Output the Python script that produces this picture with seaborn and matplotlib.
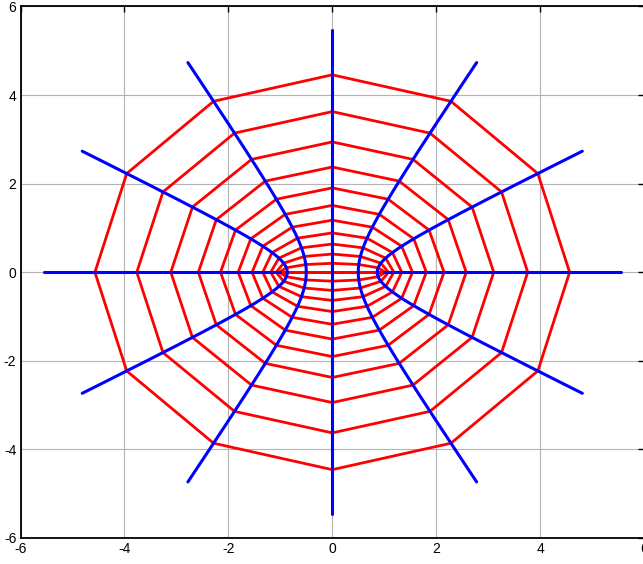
import numpy as np
import pandas as pd
import matplotlib
matplotlib.use("Agg")
import matplotlib.pyplot as plt
import seaborn as sns

# Elliptic coordinate grid: x = cosh(u) cos(v), y = sinh(u) sin(v)
red_u_levels = [0.0, 0.2, 0.4, 0.6, 0.8, 1.0, 1.2, 1.4, 1.6, 1.8, 2.0, 2.2]
red_v_deg = [0, 30, 60, 90, 120, 150, 180, 210, 240, 270, 300, 330, 360]
blue_v_deg = [0, 30, 60, 90, 120, 150, 180, 210, 240, 270, 300, 330]
blue_u_range = [0.0, 2.4]
x_ticks = [-6, -4, -2, 0, 2, 4, 6]
y_ticks = [-6, -4, -2, 0, 2, 4, 6]

sns.set_style("white")
plt.rcParams['font.family'] = ['Liberation Sans', 'DejaVu Sans']
plt.rcParams['axes.unicode_minus'] = False

rows = []
for i, u in enumerate(red_u_levels):
    for k, vd in enumerate(red_v_deg):
        v = np.deg2rad(vd)
        rows.append(dict(curve=i, order=k, x=np.cosh(u) * np.cos(v), y=np.sinh(u) * np.sin(v)))
red_df = pd.DataFrame(rows)

rows = []
u_samples = np.linspace(blue_u_range[0], blue_u_range[1], 241)
for i, vd in enumerate(blue_v_deg):
    v = np.deg2rad(vd)
    for k, u in enumerate(u_samples):
        rows.append(dict(curve=i, order=k, x=np.cosh(u) * np.cos(v), y=np.sinh(u) * np.sin(v)))
blue_df = pd.DataFrame(rows)

fig = plt.figure(figsize=(6.43, 5.64), dpi=100)
ax = fig.add_axes([0.0319, 0.0461, 0.9697, 0.9424])

ax.grid(True, color='#b4b4b4', linewidth=0.8, linestyle='-')
ax.set_axisbelow(True)

sns.lineplot(data=red_df, x='x', y='y', units='curve', estimator=None, sort=False,
             color='#ff0000', linewidth=2.0, ax=ax)
sns.lineplot(data=blue_df, x='x', y='y', units='curve', estimator=None, sort=False,
             color='#0000ff', linewidth=2.2, ax=ax)

ax.set_xlim(-6, 6)
ax.set_ylim(-6, 6)
ax.set_xticks(x_ticks)
ax.set_yticks(y_ticks)
ax.set_xlabel('')
ax.set_ylabel('')
ax.tick_params(direction='in', length=4, width=1, top=True, right=True,
               labelsize=10, colors='black', pad=3)
for s in ax.spines.values():
    s.set_visible(True)
    s.set_color('black')
    s.set_linewidth(1.3)

fig.savefig('out.png', dpi=100)
